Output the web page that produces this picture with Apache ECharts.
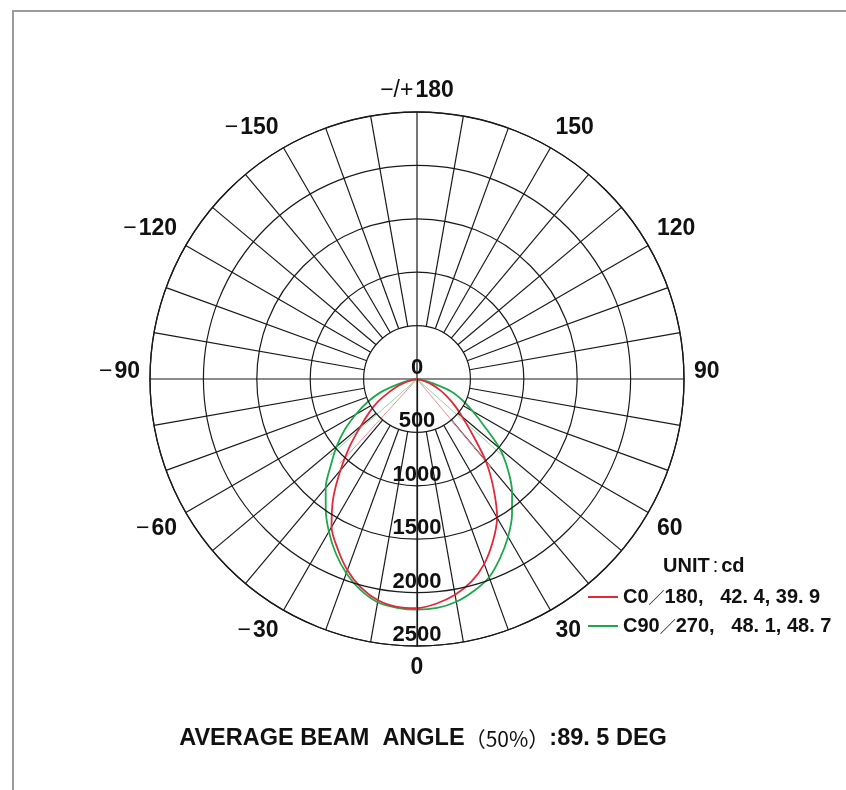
<!DOCTYPE html>
<html>
<head>
<meta charset="utf-8">
<script src="https://cdn.jsdelivr.net/npm/echarts@6/dist/echarts.min.js"></script>
<style>
html, body { margin: 0; padding: 0; background: #fff; }
#frame { position: absolute; left: 12px; top: 10px; width: 900px; height: 900px; border-top: 2px solid #9c9c9c; border-left: 2px solid #9c9c9c; }
#main { position: absolute; left: 0; top: 0; width: 846px; height: 790px; }
</style>
</head>
<body>
<div id="frame"></div>
<div id="main"></div>
<script>
// gamma angles (deg), negative = left half
var angles = [-90, -85, -80, -75, -70, -65, -60, -55, -50, -45, -40, -35, -30, -25, -20, -15, -10, -5, 0,
    5, 10, 15, 20, 25, 30, 35, 40, 45, 50, 55, 60, 65, 70, 75, 80, 85, 90];

// intensity in cd
var c0 = [0, 0, 20, 110, 190, 285, 420, 545, 690, 890, 1115, 1370, 1600, 1756, 1905, 2022, 2104, 2142, 2146,
    2110, 2052, 1965, 1842, 1680, 1500, 1248, 1002, 735, 555, 430, 320, 225, 140, 50, 10, 0, 0];
var c90 = [0, 0, 40, 175, 360, 510, 660, 825, 982, 1140, 1330, 1490, 1650, 1800, 1935, 2045, 2122, 2150, 2160,
    2152, 2118, 2055, 1975, 1845, 1705, 1551, 1385, 1205, 1010, 770, 600, 470, 340, 150, 40, 0, 0];

// 50% beam angle lines
var beamC0 = [-42.4, 39.9];
var beamC90 = [-48.7, 48.1];
var halfC0 = 1073;
var halfC90 = 1080;

var spokeAngles = [];
for (var s = 0; s < 360; s += 10) spokeAngles.push(s);

var nameC0 = 'C0/180,   42. 4, 39. 9';
var nameC90 = 'C90/270,   48. 1, 48. 7';

var FONT = "'Liberation Sans', Arial, sans-serif";
var CJK = "'Noto Sans CJK SC', sans-serif";

function toAxis(a) {
    return a < 0 ? a + 360 : a;
}
function curveData(vals) {
    return angles.map(function (a, i) { return [vals[i], toAxis(a)]; });
}
function beamData(b, r) {
    return [[r, toAxis(b[0])], [0, 0], [r, toAxis(b[1])]];
}

var chart = echarts.init(document.getElementById('main'));

var option = {
    animation: false,
    title: [
        {
            text: '{b|UNIT}{t|:}{b|cd}',
            left: 658,
            top: 551,
            textStyle: {
                rich: {
                    b: { fontFamily: FONT, fontWeight: 'bold', fontSize: 20, color: '#111' },
                    t: { fontFamily: FONT, fontWeight: 'normal', fontSize: 20, color: '#111', padding: [0, 3, 0, 3] }
                }
            }
        },
        {
            text: '{b|AVERAGE BEAM  ANGLE}{n|（50%）}{b|:89. 5 DEG}',
            left: 'center',
            top: 722,
            textStyle: {
                rich: {
                    b: { fontFamily: FONT, fontWeight: 'bold', fontSize: 23.5, color: '#111' },
                    n: { fontFamily: CJK, fontWeight: 'normal', fontSize: 21, color: '#111' }
                }
            }
        }
    ],
    legend: {
        data: [nameC0, nameC90],
        orient: 'vertical',
        left: 583,
        top: 582,
        icon: 'rect',
        itemWidth: 30,
        itemHeight: 2,
        itemGap: 9,
        formatter: function (name) {
            var parts = name.split('/');
            return '{b|' + parts[0] + '}{t|／}{b|' + parts[1] + '}';
        },
        textStyle: {
            rich: {
                b: { fontFamily: FONT, fontWeight: 'bold', fontSize: 20, color: '#111', lineHeight: 20 },
                t: { fontFamily: CJK, fontWeight: 'normal', fontSize: 16, color: '#111', lineHeight: 20 }
            }
        }
    },
    polar: {
        center: [417, 379],
        radius: 267
    },
    angleAxis: {
        type: 'value',
        min: 0,
        max: 360,
        interval: 30,
        startAngle: 270,
        clockwise: false,
        axisLine: { lineStyle: { color: '#1a1a1a', width: 1.3 } },
        axisTick: { show: false },
        splitLine: { show: false },
        axisLabel: {
            margin: 10,
            formatter: function (v) {
                if (v === 360) return '';
                if (v === 180) return '{t|−/+}{b|180}';
                if (v === 90) return '{h|90}';
                if (v === 270) return '{th|−}{h|90}';
                if (v > 180) return '{t|−}{b|' + (360 - v) + '}';
                return '{b|' + v + '}';
            },
            rich: {
                b: { fontFamily: FONT, fontWeight: 'bold', fontSize: 23, color: '#111' },
                h: { fontFamily: FONT, fontWeight: 'bold', fontSize: 23, color: '#111', padding: [0, 0, 14, 0] },
                t: { fontFamily: FONT, fontWeight: 'normal', fontSize: 23, color: '#111', padding: [0, 2, 0, 0] },
                th: { fontFamily: FONT, fontWeight: 'normal', fontSize: 23, color: '#111', padding: [0, 2, 14, 0] }
            }
        }
    },
    radiusAxis: {
        type: 'value',
        min: 0,
        max: 2500,
        interval: 500,
        axisLine: { lineStyle: { color: '#1a1a1a', width: 1.2 } },
        axisTick: { show: false },
        splitLine: { show: true, lineStyle: { color: '#1a1a1a', width: 1.2 } },
        axisLabel: {
            margin: 0,
            align: 'center',
            verticalAlign: 'bottom',
            rotate: 0,
            formatter: function (v) { return String(v); },
            fontFamily: FONT,
            fontWeight: 'bold',
            fontSize: 22,
            color: '#111'
        },
        z: 5
    },
    series: [
        {
            type: 'custom',
            coordinateSystem: 'polar',
            silent: true,
            data: spokeAngles.map(function (a) { return [2500, a]; }),
            renderItem: function (params, api) {
                var a = api.value(1);
                var inner = a % 90 === 0 ? 0 : 500;
                var p1 = api.coord([inner, a]);
                var p2 = api.coord([2500, a]);
                return {
                    type: 'line',
                    shape: { x1: p1[0], y1: p1[1], x2: p2[0], y2: p2[1] },
                    style: { stroke: '#1a1a1a', lineWidth: 1.2 }
                };
            },
            z: 1
        },
        {
            name: 'beamC0',
            type: 'line',
            coordinateSystem: 'polar',
            data: beamData(beamC0, halfC0),
            showSymbol: false,
            lineStyle: { color: '#ee9099', width: 1 },
            z: 3
        },
        {
            name: 'beamC90',
            type: 'line',
            coordinateSystem: 'polar',
            data: beamData(beamC90, halfC90),
            showSymbol: false,
            lineStyle: { color: '#92d5a2', width: 1 },
            z: 3
        },
        {
            name: nameC90,
            type: 'line',
            coordinateSystem: 'polar',
            data: curveData(c90),
            showSymbol: false,
            smooth: 0.3,
            color: '#1ea84c',
            lineStyle: { color: '#1ea84c', width: 1.8 },
            z: 4
        },
        {
            name: nameC0,
            type: 'line',
            coordinateSystem: 'polar',
            data: curveData(c0),
            showSymbol: false,
            smooth: 0.3,
            color: '#e2293a',
            lineStyle: { color: '#e2293a', width: 1.8 },
            z: 4
        }
    ]
};

chart.setOption(option);
</script>
</body>
</html>
